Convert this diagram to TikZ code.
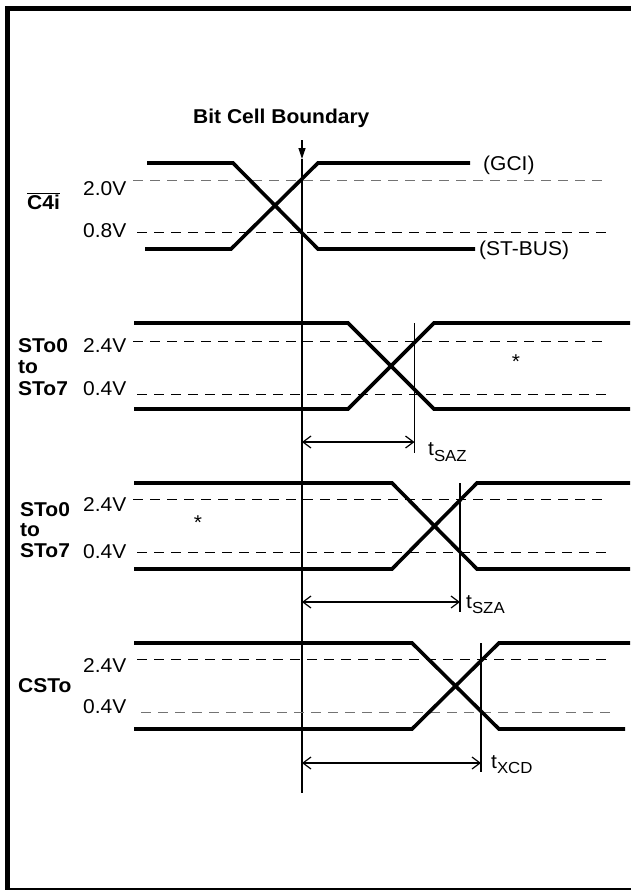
\documentclass[tikz,border=0pt]{standalone}
\usepackage{fontspec}
\setmainfont{Liberation Sans}[FakeStretch=1.05]
\usetikzlibrary{arrows.meta}
\begin{document}
\begin{tikzpicture}[x=1pt,y=-1pt,
  sig/.style={line width=3.6pt, line join=miter},
  thr/.style={line width=0.9pt, dash pattern=on 10pt off 7pt},
  thrg/.style={thr, draw=black!55},
  thinline/.style={line width=1.2pt},
  dim/.style={line width=1.2pt, {Straight Barb[length=8pt,width=12pt]}-{Straight Barb[length=8pt,width=12pt]}},
  lbl/.style={inner sep=0pt, anchor=base west, font=\fontsize{20}{22}\selectfont},
  blbl/.style={lbl, font=\fontsize{20}{22}\selectfont\bfseries},
  tlbl/.style={lbl},
]
\useasboundingbox (0,0) rectangle (631,891);
% frame
\fill (5,6) rectangle (10,890);
\fill (5,6) rectangle (631,11);
\fill (5,887.5) rectangle (631,890);

% Bit cell boundary
\node[blbl] (bcb) at (193,123) {Bit Cell Boundary};
\coordinate (arrtop) at (302,140);
\coordinate (arrtip) at (302,159);
\coordinate (bndend) at (302,793);
\draw[thinline, -{Triangle[length=11pt,width=7pt]}] (arrtop) -- (arrtip);
\draw[thinline] (arrtip) -- (bndend);

% ---- C4i ----
\node[blbl] (c4i) at (27,209) {$\overline{\hbox{\bfseries C4i}}$};
\node[lbl] (v20) at (83,195) {2.0V};
\node[lbl] (v08) at (83,237) {0.8V};
\draw[thrg] (133,180) -- (608,180);
\draw[thr] (137,232) -- (608,232);
\draw[sig] (147,163) -- (233,163) -- (318,249) -- (475,249);
\draw[sig] (145,249) -- (231,249) -- (318,163) -- (470,163);
\node[lbl] (gci) at (483,170) {(GCI)};
\node[lbl] (stbus) at (479,255) {(ST-BUS)};

% ---- STo0 to STo7 (1) ----
\node[blbl] (sa0) at (18,352) {STo0};
\node[blbl] (sato) at (18,373) {to};
\node[blbl] (sa7) at (18,395) {STo7};
\node[lbl] (sa24) at (83,352) {2.4V};
\node[lbl] (sa04) at (83,395) {0.4V};
\draw[thr] (133,341) -- (608,341);
\draw[thr] (137,394) -- (612,394);
\draw[sig] (134,323) -- (348,323) -- (434,409) -- (630,409);
\draw[sig] (134,409) -- (348,409) -- (434,323) -- (630,323);
\node[lbl, anchor=base] (star1) at (516,368) {*};
\coordinate (m1t) at (414.5,323);
\coordinate (m1b) at (414.5,453);
\draw[thinline] (m1t) -- (m1b);
\coordinate (d1a) at (302,442);
\coordinate (d1b) at (414.5,442);
\draw[dim] (d1a) -- (d1b);
\node[tlbl] (tsaz) at (428,455) {t\raisebox{-6pt}{\fontsize{16}{16}\selectfont SAZ}};

% ---- STo0 to STo7 (2) ----
\node[blbl] (sb0) at (20,516) {STo0};
\node[blbl] (sbto) at (20,536) {to};
\node[blbl] (sb7) at (20,557) {STo7};
\node[lbl] (sb24) at (83,511) {2.4V};
\node[lbl] (sb04) at (83,558) {0.4V};
\draw[thr] (133,499) -- (608,499);
\draw[thr] (137,552) -- (612,552);
\draw[sig] (134,483) -- (392,483) -- (477,569) -- (630,569);
\draw[sig] (134,569) -- (392,569) -- (477,483) -- (630,483);
\node[lbl, anchor=base] (star2) at (198,529) {*};
\coordinate (m2t) at (460,483);
\coordinate (m2b) at (460,612);
\draw[thinline] (m2t) -- (m2b);
\coordinate (d2a) at (302,602);
\coordinate (d2b) at (460,602);
\draw[dim] (d2a) -- (d2b);
\node[tlbl] (tsza) at (466,608) {t\raisebox{-5pt}{\fontsize{16}{16}\selectfont SZA}};

% ---- CSTo ----
\node[blbl] (csto) at (18,692) {CSTo};
\node[lbl] (sc24) at (83,672) {2.4V};
\node[lbl] (sc04) at (83,713) {0.4V};
\draw[thr] (137,659) -- (612,659);
\draw[thrg] (141,712) -- (612,712);
\draw[sig] (134,643) -- (412,643) -- (499,729) -- (625,729);
\draw[sig] (134,729) -- (412,729) -- (499,643) -- (630,643);
\coordinate (m3t) at (481,643);
\coordinate (m3b) at (481,772);
\draw[thinline] (m3t) -- (m3b);
\coordinate (d3a) at (302,763);
\coordinate (d3b) at (481,763);
\draw[dim] (d3a) -- (d3b);
\node[tlbl] (txcd) at (491,768) {t\raisebox{-5pt}{\fontsize{16}{16}\selectfont XCD}};
\end{tikzpicture}
\end{document}
